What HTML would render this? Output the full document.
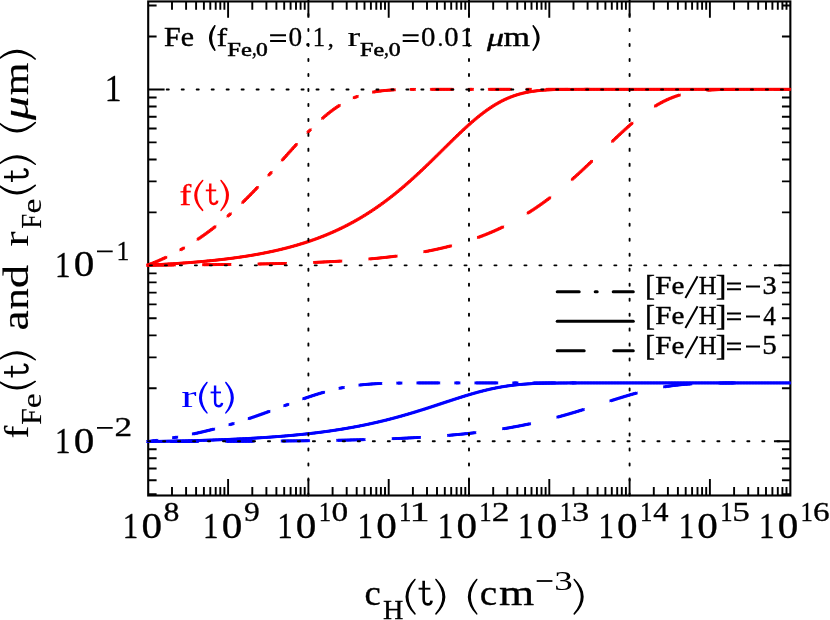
<!DOCTYPE html>
<html><head><meta charset="utf-8"><title>chart</title>
<style>html,body{margin:0;padding:0;background:#fff;width:830px;height:620px;overflow:hidden}svg{position:absolute;left:0;top:0;display:block;will-change:transform}text{font-family:"Liberation Serif",serif}text.ss{font-family:"Liberation Sans",sans-serif}</style></head>
<body>
<svg width="830" height="620" viewBox="0 0 830 620">
<rect width="830" height="620" fill="#fff"/>
<g id="title">
<text transform="translate(164.10,46.33) scale(1.094,1.000)" font-size="27.37" stroke="#000" stroke-width="0.4">Fe</text>
<path d="M214.85,25.75Q204.65,38.00 214.85,50.25Q207.65,38.00 214.85,25.75Z" fill="#000" stroke="#000" stroke-width="1.5" stroke-linejoin="round"/>
<text transform="translate(216.87,46.30) scale(1.210,1.000)" font-size="25.67" stroke="#000" stroke-width="0.4">f</text>
<text transform="translate(227.26,55.51) scale(1.309,1.000)" font-size="18.80" stroke="#000" stroke-width="0.5">Fe</text>
<text transform="translate(251.90,55.31) scale(0.907,1.000)" font-size="20.58" stroke="#000" stroke-width="0.4">,</text>
<text transform="translate(256.12,55.61) scale(1.241,1.000)" font-size="18.96" stroke="#000" stroke-width="0.5">0</text>
<text transform="translate(288.58,46.23) scale(1.012,1.000)" font-size="26.96" stroke="#000" stroke-width="0.3">0</text>
<text transform="translate(304.73,46.04) scale(1.014,1.000)" font-size="23.83" stroke="#000" stroke-width="0.3">.</text>
<text transform="translate(312.74,46.30) scale(0.910,1.000)" font-size="27.12" stroke="#000" stroke-width="0.3">1</text>
<text transform="translate(327.80,45.83) scale(1.013,1.000)" font-size="23.69" stroke="#000" stroke-width="0.3">,</text>
<text transform="translate(347.44,46.30) scale(1.419,1.000)" font-size="26.81" stroke="#000" stroke-width="0.15">r</text>
<text transform="translate(360.08,55.51) scale(1.275,1.000)" font-size="18.80" stroke="#000" stroke-width="0.5">Fe</text>
<text transform="translate(383.88,55.31) scale(0.939,1.000)" font-size="20.58" stroke="#000" stroke-width="0.4">,</text>
<text transform="translate(388.81,55.61) scale(1.253,1.000)" font-size="18.96" stroke="#000" stroke-width="0.5">0</text>
<text transform="translate(421.11,46.23) scale(1.073,1.000)" font-size="26.96" stroke="#000" stroke-width="0.3">0</text>
<text transform="translate(437.38,46.04) scale(0.979,1.000)" font-size="23.83" stroke="#000" stroke-width="0.3">.</text>
<text transform="translate(444.32,46.23) scale(1.065,1.000)" font-size="26.96" stroke="#000" stroke-width="0.3">0</text>
<text transform="translate(460.62,46.30) scale(0.920,1.000)" font-size="27.12" stroke="#000" stroke-width="0.3">1</text>
<text transform="translate(486.90,45.56) scale(1.319,1.000)" font-size="25.78" font-style="italic" stroke="#000" stroke-width="0.4">&#956;</text>
<text transform="translate(503.52,46.30) scale(1.271,1.000)" font-size="26.81" stroke="#000" stroke-width="0.4">m</text>
<path d="M533.15,25.75Q544.55,38.00 533.15,50.25Q541.55,38.00 533.15,25.75Z" fill="#000" stroke="#000" stroke-width="1.5" stroke-linejoin="round"/>
<path d="M270.1,35.2H286M270.1,41H286M402.7,35.2H418.6M402.7,41H418.6" stroke="#000" stroke-width="1.9" fill="none"/>
</g>
<path d="M172.0,495.5v-8.4M172.0,1.45v8.4M186.1,495.5v-8.4M186.1,1.45v8.4M196.1,495.5v-8.4M196.1,1.45v8.4M203.9,495.5v-8.4M203.9,1.45v8.4M210.3,495.5v-8.4M210.3,1.45v8.4M215.7,495.5v-8.4M215.7,1.45v8.4M220.3,495.5v-8.4M220.3,1.45v8.4M224.4,495.5v-8.4M224.4,1.45v8.4M228.1,495.5v-16.4M228.1,1.45v16.4M252.3,495.5v-8.4M252.3,1.45v8.4M266.4,495.5v-8.4M266.4,1.45v8.4M276.4,495.5v-8.4M276.4,1.45v8.4M284.2,495.5v-8.4M284.2,1.45v8.4M290.6,495.5v-8.4M290.6,1.45v8.4M296.0,495.5v-8.4M296.0,1.45v8.4M300.6,495.5v-8.4M300.6,1.45v8.4M304.7,495.5v-8.4M304.7,1.45v8.4M308.4,495.5v-16.4M308.4,1.45v16.4M332.6,495.5v-8.4M332.6,1.45v8.4M346.7,495.5v-8.4M346.7,1.45v8.4M356.7,495.5v-8.4M356.7,1.45v8.4M364.5,495.5v-8.4M364.5,1.45v8.4M370.9,495.5v-8.4M370.9,1.45v8.4M376.3,495.5v-8.4M376.3,1.45v8.4M380.9,495.5v-8.4M380.9,1.45v8.4M385.0,495.5v-8.4M385.0,1.45v8.4M388.7,495.5v-16.4M388.7,1.45v16.4M412.9,495.5v-8.4M412.9,1.45v8.4M427.0,495.5v-8.4M427.0,1.45v8.4M437.0,495.5v-8.4M437.0,1.45v8.4M444.8,495.5v-8.4M444.8,1.45v8.4M451.2,495.5v-8.4M451.2,1.45v8.4M456.6,495.5v-8.4M456.6,1.45v8.4M461.2,495.5v-8.4M461.2,1.45v8.4M465.3,495.5v-8.4M465.3,1.45v8.4M469.0,495.5v-16.4M469.0,1.45v16.4M493.2,495.5v-8.4M493.2,1.45v8.4M507.3,495.5v-8.4M507.3,1.45v8.4M517.3,495.5v-8.4M517.3,1.45v8.4M525.1,495.5v-8.4M525.1,1.45v8.4M531.5,495.5v-8.4M531.5,1.45v8.4M536.9,495.5v-8.4M536.9,1.45v8.4M541.5,495.5v-8.4M541.5,1.45v8.4M545.6,495.5v-8.4M545.6,1.45v8.4M549.3,495.5v-16.4M549.3,1.45v16.4M573.5,495.5v-8.4M573.5,1.45v8.4M587.6,495.5v-8.4M587.6,1.45v8.4M597.6,495.5v-8.4M597.6,1.45v8.4M605.4,495.5v-8.4M605.4,1.45v8.4M611.8,495.5v-8.4M611.8,1.45v8.4M617.2,495.5v-8.4M617.2,1.45v8.4M621.8,495.5v-8.4M621.8,1.45v8.4M625.9,495.5v-8.4M625.9,1.45v8.4M629.6,495.5v-16.4M629.6,1.45v16.4M653.8,495.5v-8.4M653.8,1.45v8.4M667.9,495.5v-8.4M667.9,1.45v8.4M677.9,495.5v-8.4M677.9,1.45v8.4M685.7,495.5v-8.4M685.7,1.45v8.4M692.1,495.5v-8.4M692.1,1.45v8.4M697.5,495.5v-8.4M697.5,1.45v8.4M702.1,495.5v-8.4M702.1,1.45v8.4M706.2,495.5v-8.4M706.2,1.45v8.4M709.9,495.5v-16.4M709.9,1.45v16.4M734.1,495.5v-8.4M734.1,1.45v8.4M748.2,495.5v-8.4M748.2,1.45v8.4M758.2,495.5v-8.4M758.2,1.45v8.4M766.0,495.5v-8.4M766.0,1.45v8.4M772.4,495.5v-8.4M772.4,1.45v8.4M777.8,495.5v-8.4M777.8,1.45v8.4M782.4,495.5v-8.4M782.4,1.45v8.4M786.5,495.5v-8.4M786.5,1.45v8.4M148.2,494.2h8.4M790.35,494.2h-8.4M148.2,480.3h8.4M790.35,480.3h-8.4M148.2,468.5h8.4M790.35,468.5h-8.4M148.2,458.3h8.4M790.35,458.3h-8.4M148.2,449.3h8.4M790.35,449.3h-8.4M148.2,441.3h16.4M790.35,441.3h-16.4M148.2,388.3h8.4M790.35,388.3h-8.4M148.2,357.4h8.4M790.35,357.4h-8.4M148.2,335.4h8.4M790.35,335.4h-8.4M148.2,318.3h8.4M790.35,318.3h-8.4M148.2,304.4h8.4M790.35,304.4h-8.4M148.2,292.6h8.4M790.35,292.6h-8.4M148.2,282.4h8.4M790.35,282.4h-8.4M148.2,273.4h8.4M790.35,273.4h-8.4M148.2,265.4h16.4M790.35,265.4h-16.4M148.2,212.4h8.4M790.35,212.4h-8.4M148.2,181.4h8.4M790.35,181.4h-8.4M148.2,159.5h8.4M790.35,159.5h-8.4M148.2,142.4h8.4M790.35,142.4h-8.4M148.2,128.5h8.4M790.35,128.5h-8.4M148.2,116.7h8.4M790.35,116.7h-8.4M148.2,106.5h8.4M790.35,106.5h-8.4M148.2,97.5h8.4M790.35,97.5h-8.4M148.2,89.5h16.4M790.35,89.5h-16.4M148.2,36.5h8.4M790.35,36.5h-8.4M148.2,5.5h8.4M790.35,5.5h-8.4" stroke="#000" stroke-width="1.9" fill="none"/>
<rect x="148.2" y="1.45" width="642.1500000000001" height="494.05" fill="none" stroke="#000" stroke-width="2.1"/>
<g stroke="#ff0000" fill="none" stroke-linecap="round" stroke-linejoin="round" stroke-dasharray="26.8 28.7" stroke-dashoffset="0">
<use href="#c1" stroke-width="2.3"/>
<use href="#c1" x="-0.9" y="-0.9" stroke-width="1.0"/>
<use href="#c1" x="0.9" y="-0.9" stroke-width="1.0"/>
<use href="#c1" x="-0.9" y="0.9" stroke-width="1.0"/>
<use href="#c1" x="0.9" y="0.9" stroke-width="1.0"/>
</g>
<g stroke="#ff0000" fill="none" stroke-linecap="round" stroke-linejoin="round" stroke-dasharray="21.3 16.55 3.6 16.55" stroke-dashoffset="1.5">
<use href="#c2" stroke-width="2.3"/>
<use href="#c2" x="-0.9" y="-0.9" stroke-width="1.0"/>
<use href="#c2" x="0.9" y="-0.9" stroke-width="1.0"/>
<use href="#c2" x="-0.9" y="0.9" stroke-width="1.0"/>
<use href="#c2" x="0.9" y="0.9" stroke-width="1.0"/>
</g>
<g stroke="#ff0000" fill="none" stroke-linecap="round" stroke-linejoin="round">
<use href="#c3" stroke-width="2.3"/>
<use href="#c3" x="-0.9" y="-0.9" stroke-width="1.0"/>
<use href="#c3" x="0.9" y="-0.9" stroke-width="1.0"/>
<use href="#c3" x="-0.9" y="0.9" stroke-width="1.0"/>
<use href="#c3" x="0.9" y="0.9" stroke-width="1.0"/>
</g>
<g stroke="#0000ff" fill="none" stroke-linecap="round" stroke-linejoin="round" stroke-dasharray="26.8 28.7" stroke-dashoffset="32.3">
<use href="#c4" stroke-width="2.3"/>
<use href="#c4" x="-0.9" y="-0.9" stroke-width="1.0"/>
<use href="#c4" x="0.9" y="-0.9" stroke-width="1.0"/>
<use href="#c4" x="-0.9" y="0.9" stroke-width="1.0"/>
<use href="#c4" x="0.9" y="0.9" stroke-width="1.0"/>
</g>
<g stroke="#0000ff" fill="none" stroke-linecap="round" stroke-linejoin="round" stroke-dasharray="21.3 16.55 3.6 16.55" stroke-dashoffset="12">
<use href="#c5" stroke-width="2.3"/>
<use href="#c5" x="-0.9" y="-0.9" stroke-width="1.0"/>
<use href="#c5" x="0.9" y="-0.9" stroke-width="1.0"/>
<use href="#c5" x="-0.9" y="0.9" stroke-width="1.0"/>
<use href="#c5" x="0.9" y="0.9" stroke-width="1.0"/>
</g>
<g stroke="#0000ff" fill="none" stroke-linecap="round" stroke-linejoin="round">
<use href="#c6" stroke-width="2.3"/>
<use href="#c6" x="-0.9" y="-0.9" stroke-width="1.0"/>
<use href="#c6" x="0.9" y="-0.9" stroke-width="1.0"/>
<use href="#c6" x="-0.9" y="0.9" stroke-width="1.0"/>
<use href="#c6" x="0.9" y="0.9" stroke-width="1.0"/>
</g>
<line x1="166.7" y1="89.45" x2="790.35" y2="89.45" stroke="#000" stroke-width="1.9" stroke-linecap="round" stroke-dasharray="2.1 12.88"/>
<line x1="149.9" y1="265.37" x2="790.35" y2="265.37" stroke="#000" stroke-width="1.9" stroke-linecap="round" stroke-dasharray="2.1 12.88"/>
<line x1="148.1" y1="441.29" x2="790.35" y2="441.29" stroke="#000" stroke-width="1.9" stroke-linecap="round" stroke-dasharray="2.1 12.88"/>
<line x1="308.4" y1="-1.0" x2="308.4" y2="495.5" stroke="#000" stroke-width="1.9" stroke-linecap="round" stroke-dasharray="2.1 12.88"/>
<line x1="469.0" y1="-1.0" x2="469.0" y2="495.5" stroke="#000" stroke-width="1.9" stroke-linecap="round" stroke-dasharray="2.1 12.88"/>
<line x1="629.6" y1="-1.0" x2="629.6" y2="495.5" stroke="#000" stroke-width="1.9" stroke-linecap="round" stroke-dasharray="2.1 12.88"/>
<g stroke="#000" stroke-width="3" stroke-linecap="round" fill="none">
<path d="M557.2,291.8H633.3" stroke-dasharray="22 16 2 16"/>
<path d="M557.2,321.3H633.3"/>
<path d="M557.2,350.8H633.3" stroke-dasharray="27 29.5"/>
</g>
<text transform="translate(179.54,204.80) scale(1.171,1.000)" font-size="30.21" fill="#ff0000" stroke="#ff0000" stroke-width="0.3">f</text>
<path d="M202.65,180.45Q187.25,195.40 202.65,210.35Q190.25,195.40 202.65,180.45Z" fill="#ff0000" stroke="#ff0000" stroke-width="1.5" stroke-linejoin="round"/>
<path d="M210.28,183.50L210.28,199.84Q210.28,204.03 213.79,204.03Q216.93,204.03 217.30,200.70" stroke="#ff0000" stroke-width="2.4" fill="none"/><path d="M205.80,190.38H216.21" stroke="#ff0000" stroke-width="1.8" fill="none"/>
<path d="M221.05,180.45Q235.45,195.40 221.05,210.35Q232.45,195.40 221.05,180.45Z" fill="#ff0000" stroke="#ff0000" stroke-width="1.5" stroke-linejoin="round"/>
<text transform="translate(181.18,407.00) scale(1.419,1.000)" font-size="32.34" fill="#0000ff">r</text>
<path d="M206.95,382.45Q192.55,397.65 206.95,412.85Q195.55,397.65 206.95,382.45Z" fill="#0000ff" stroke="#0000ff" stroke-width="1.5" stroke-linejoin="round"/>
<path d="M215.08,385.50L215.08,401.99Q215.08,406.22 218.59,406.22Q221.73,406.22 222.09,402.86" stroke="#0000ff" stroke-width="2.4" fill="none"/><path d="M210.60,392.44H221.01" stroke="#0000ff" stroke-width="1.8" fill="none"/>
<path d="M225.85,382.45Q240.25,397.65 225.85,412.85Q237.25,397.65 225.85,382.45Z" fill="#0000ff" stroke="#0000ff" stroke-width="1.5" stroke-linejoin="round"/>
<text transform="translate(645.04,295.13) scale(1.050,1.000)" font-size="28.67" stroke="#000" stroke-width="0.4">[</text>
<text transform="translate(655.33,294.15) scale(1.180,1.000)" font-size="24.66" stroke="#000" stroke-width="0.4">Fe</text>
<text transform="translate(698.86,294.20) scale(0.995,1.000)" font-size="24.73" stroke="#000" stroke-width="0.4">H</text>
<text transform="translate(715.68,295.13) scale(1.116,1.000)" font-size="28.67" stroke="#000" stroke-width="0.4">]</text>
<path d="M685.4,298L697.6,276.2M727,283.6H741M727,289.2H741M746,286.4H760" stroke="#000" stroke-width="2" fill="none"/>
<text transform="translate(762.45,294.34) scale(1.084,1.000)" font-size="26.17" stroke="#000" stroke-width="0.4">3</text>
<text transform="translate(645.04,325.13) scale(1.050,1.000)" font-size="28.67" stroke="#000" stroke-width="0.4">[</text>
<text transform="translate(655.33,324.15) scale(1.180,1.000)" font-size="24.66" stroke="#000" stroke-width="0.4">Fe</text>
<text transform="translate(698.86,324.20) scale(0.995,1.000)" font-size="24.73" stroke="#000" stroke-width="0.4">H</text>
<text transform="translate(715.68,325.13) scale(1.116,1.000)" font-size="28.67" stroke="#000" stroke-width="0.4">]</text>
<path d="M685.4,328L697.6,306.2M727,313.6H741M727,319.2H741M746,316.4H760" stroke="#000" stroke-width="2" fill="none"/>
<text transform="translate(763.30,324.60) scale(0.940,1.000)" font-size="26.77" stroke="#000" stroke-width="0.4">4</text>
<text transform="translate(645.04,355.13) scale(1.050,1.000)" font-size="28.67" stroke="#000" stroke-width="0.4">[</text>
<text transform="translate(655.33,354.15) scale(1.180,1.000)" font-size="24.66" stroke="#000" stroke-width="0.4">Fe</text>
<text transform="translate(698.86,354.20) scale(0.995,1.000)" font-size="24.73" stroke="#000" stroke-width="0.4">H</text>
<text transform="translate(715.68,355.13) scale(1.116,1.000)" font-size="28.67" stroke="#000" stroke-width="0.4">]</text>
<path d="M685.4,358L697.6,336.2M727,343.6H741M727,349.2H741M746,346.4H760" stroke="#000" stroke-width="2" fill="none"/>
<text transform="translate(762.13,354.34) scale(1.098,1.000)" font-size="26.47" stroke="#000" stroke-width="0.4">5</text>
<text transform="translate(122.79,537.90) scale(0.868,1.000)" font-size="35.61" stroke="#000" stroke-width="0.3">1</text>
<text transform="translate(141.46,537.75) scale(1.168,1.000)" font-size="35.26" stroke="#000" stroke-width="0.3">0</text>
<text transform="translate(163.61,520.93) scale(1.198,1.000)" font-size="26.52" stroke="#000" stroke-width="0.3">8</text>
<text transform="translate(203.09,537.90) scale(0.868,1.000)" font-size="35.61" stroke="#000" stroke-width="0.3">1</text>
<text transform="translate(221.76,537.75) scale(1.168,1.000)" font-size="35.26" stroke="#000" stroke-width="0.3">0</text>
<text transform="translate(244.07,520.93) scale(1.186,1.000)" font-size="26.62" stroke="#000" stroke-width="0.3">9</text>
<text transform="translate(277.19,537.90) scale(0.868,1.000)" font-size="35.61" stroke="#000" stroke-width="0.3">1</text>
<text transform="translate(295.86,537.75) scale(1.168,1.000)" font-size="35.26" stroke="#000" stroke-width="0.3">0</text>
<text transform="translate(318.74,521.00) scale(0.926,1.000)" font-size="26.67" stroke="#000" stroke-width="0.3">1</text>
<text transform="translate(331.45,520.93) scale(1.260,1.000)" font-size="26.52" stroke="#000" stroke-width="0.3">0</text>
<text transform="translate(357.49,537.90) scale(0.868,1.000)" font-size="35.61" stroke="#000" stroke-width="0.3">1</text>
<text transform="translate(376.16,537.75) scale(1.168,1.000)" font-size="35.26" stroke="#000" stroke-width="0.3">0</text>
<text transform="translate(399.04,521.00) scale(0.926,1.000)" font-size="26.67" stroke="#000" stroke-width="0.3">1</text>
<text transform="translate(409.48,521.20) scale(1.485,1.000)" font-size="27.12" stroke="#000" stroke-width="0.3">1</text>
<text transform="translate(437.79,537.90) scale(0.868,1.000)" font-size="35.61" stroke="#000" stroke-width="0.3">1</text>
<text transform="translate(456.46,537.75) scale(1.168,1.000)" font-size="35.26" stroke="#000" stroke-width="0.3">0</text>
<text transform="translate(479.34,521.00) scale(0.926,1.000)" font-size="26.67" stroke="#000" stroke-width="0.3">1</text>
<text transform="translate(491.70,521.20) scale(1.314,1.000)" font-size="27.02" stroke="#000" stroke-width="0.3">2</text>
<text transform="translate(518.09,537.90) scale(0.868,1.000)" font-size="35.61" stroke="#000" stroke-width="0.3">1</text>
<text transform="translate(536.76,537.75) scale(1.168,1.000)" font-size="35.26" stroke="#000" stroke-width="0.3">0</text>
<text transform="translate(559.64,521.00) scale(0.926,1.000)" font-size="26.67" stroke="#000" stroke-width="0.3">1</text>
<text transform="translate(571.96,520.93) scale(1.293,1.000)" font-size="26.62" stroke="#000" stroke-width="0.3">3</text>
<text transform="translate(598.39,537.90) scale(0.868,1.000)" font-size="35.61" stroke="#000" stroke-width="0.3">1</text>
<text transform="translate(617.06,537.75) scale(1.168,1.000)" font-size="35.26" stroke="#000" stroke-width="0.3">0</text>
<text transform="translate(639.94,521.00) scale(0.926,1.000)" font-size="26.67" stroke="#000" stroke-width="0.3">1</text>
<text transform="translate(653.29,521.20) scale(1.122,1.000)" font-size="27.22" stroke="#000" stroke-width="0.3">4</text>
<text transform="translate(678.69,537.90) scale(0.868,1.000)" font-size="35.61" stroke="#000" stroke-width="0.3">1</text>
<text transform="translate(697.36,537.75) scale(1.168,1.000)" font-size="35.26" stroke="#000" stroke-width="0.3">0</text>
<text transform="translate(720.24,521.00) scale(0.926,1.000)" font-size="26.67" stroke="#000" stroke-width="0.3">1</text>
<text transform="translate(732.17,520.93) scale(1.311,1.000)" font-size="26.92" stroke="#000" stroke-width="0.3">5</text>
<text transform="translate(758.99,537.90) scale(0.868,1.000)" font-size="35.61" stroke="#000" stroke-width="0.3">1</text>
<text transform="translate(777.66,537.75) scale(1.168,1.000)" font-size="35.26" stroke="#000" stroke-width="0.3">0</text>
<text transform="translate(800.54,521.00) scale(0.926,1.000)" font-size="26.67" stroke="#000" stroke-width="0.3">1</text>
<text transform="translate(813.09,520.93) scale(1.248,1.000)" font-size="26.62" stroke="#000" stroke-width="0.3">6</text>
<text transform="translate(104.87,100.90) scale(0.902,1.000)" font-size="37.12" stroke="#000" stroke-width="0.3">1</text>
<text transform="translate(55.09,276.60) scale(0.861,1.000)" font-size="35.91" stroke="#000" stroke-width="0.3">1</text>
<text transform="translate(73.76,276.44) scale(1.158,1.000)" font-size="35.56" stroke="#000" stroke-width="0.3">0</text>
<text transform="translate(116.47,259.70) scale(0.931,1.000)" font-size="27.42" stroke="#000" stroke-width="0.3">1</text>
<text transform="translate(55.09,452.80) scale(0.850,1.000)" font-size="36.36" stroke="#000" stroke-width="0.3">1</text>
<text transform="translate(73.76,452.64) scale(1.144,1.000)" font-size="36.00" stroke="#000" stroke-width="0.3">0</text>
<text transform="translate(114.41,435.50) scale(1.319,1.000)" font-size="26.72" stroke="#000" stroke-width="0.3">2</text>
<path d="M97,251.3H112.7M97,427.8H112.7" stroke="#000" stroke-width="1.8" fill="none"/>
<text transform="translate(364.43,605.15) scale(1.050,1.000)" font-size="34.79" stroke="#000" stroke-width="0.3">c</text>
<text transform="translate(383.05,619.10) scale(1.021,1.000)" font-size="27.63" stroke="#000" stroke-width="0.3">H</text>
<path d="M414.95,579.45Q397.55,596.65 414.95,613.85Q400.55,596.65 414.95,579.45Z" fill="#000" stroke="#000" stroke-width="1.5" stroke-linejoin="round"/>
<path d="M423.67,580.80L423.67,599.57Q423.67,604.39 427.64,604.39Q431.20,604.39 431.62,600.56" stroke="#000" stroke-width="2.6" fill="none"/><path d="M418.60,588.70H430.38" stroke="#000" stroke-width="1.9" fill="none"/>
<path d="M435.95,579.45Q453.15,596.65 435.95,613.85Q450.15,596.65 435.95,579.45Z" fill="#000" stroke="#000" stroke-width="1.5" stroke-linejoin="round"/>
<path d="M476.75,579.45Q460.55,596.65 476.75,613.85Q463.55,596.65 476.75,579.45Z" fill="#000" stroke="#000" stroke-width="1.5" stroke-linejoin="round"/>
<text transform="translate(479.63,605.15) scale(1.127,1.000)" font-size="34.79" stroke="#000" stroke-width="0.3">c</text>
<text transform="translate(499.09,605.20) scale(1.297,1.000)" font-size="34.89" stroke="#000" stroke-width="0.3">m</text>
<text transform="translate(554.14,589.53) scale(1.393,1.000)" font-size="26.62">3</text>
<path d="M574.25,579.45Q591.65,596.65 574.25,613.85Q588.65,596.65 574.25,579.45Z" fill="#000" stroke="#000" stroke-width="1.5" stroke-linejoin="round"/>
<path d="M536.7,581H552.4" stroke="#000" stroke-width="1.8" fill="none"/>
<g transform="translate(28.3,440) rotate(-90)">
<text transform="translate(1.68,0.00) scale(1.084,1.000)" font-size="34.47" stroke="#000" stroke-width="0.15">f</text>
<text transform="translate(15.21,12.80) scale(1.033,1.000)" font-size="28.85" stroke="#000" stroke-width="0.15">F</text>
<text transform="translate(31.75,12.72) scale(1.201,1.000)" font-size="28.12" stroke="#000" stroke-width="0.15">e</text>
<path d="M58.55,-29.55Q43.75,-11.30 58.55,6.95Q46.75,-11.30 58.55,-29.55Z" fill="#000" stroke="#000" stroke-width="1.5" stroke-linejoin="round"/>
<path d="M67.57,-24.30L67.57,-5.60Q67.57,-0.81 71.54,-0.81Q75.10,-0.81 75.51,-4.62" stroke="#000" stroke-width="2.6" fill="none"/><path d="M62.50,-16.43H74.28" stroke="#000" stroke-width="1.9" fill="none"/>
<path d="M80.25,-29.55Q95.65,-11.30 80.25,6.95Q92.65,-11.30 80.25,-29.55Z" fill="#000" stroke="#000" stroke-width="1.5" stroke-linejoin="round"/>
<text transform="translate(109.41,0.13) scale(1.229,1.000)" font-size="37.08" stroke="#000" stroke-width="0.15">a</text>
<text transform="translate(130.45,0.00) scale(1.172,1.000)" font-size="36.17" stroke="#000" stroke-width="0.15">n</text>
<text transform="translate(151.76,0.15) scale(1.332,1.000)" font-size="35.18" stroke="#000" stroke-width="0.15">d</text>
<text transform="translate(193.27,0.00) scale(1.287,1.000)" font-size="36.17">r</text>
<text transform="translate(211.19,12.80) scale(0.934,1.000)" font-size="28.85" stroke="#000" stroke-width="0.15">F</text>
<text transform="translate(226.56,12.72) scale(1.192,1.000)" font-size="28.12" stroke="#000" stroke-width="0.15">e</text>
<path d="M254.65,-29.55Q238.05,-11.30 254.65,6.95Q241.05,-11.30 254.65,-29.55Z" fill="#000" stroke="#000" stroke-width="1.5" stroke-linejoin="round"/>
<path d="M262.96,-24.30L262.96,-5.60Q262.96,-0.81 266.84,-0.81Q270.33,-0.81 270.73,-4.62" stroke="#000" stroke-width="2.6" fill="none"/><path d="M258.00,-16.43H269.52" stroke="#000" stroke-width="1.9" fill="none"/>
<path d="M275.75,-29.55Q292.15,-11.30 275.75,6.95Q289.15,-11.30 275.75,-29.55Z" fill="#000" stroke="#000" stroke-width="1.5" stroke-linejoin="round"/>
<path d="M317.35,-29.55Q299.15,-11.30 317.35,6.95Q302.15,-11.30 317.35,-29.55Z" fill="#000" stroke="#000" stroke-width="1.5" stroke-linejoin="round"/>
<text transform="translate(320.00,-0.51) scale(1.319,1.000)" font-size="35.85" font-style="italic" stroke="#000" stroke-width="0.15">&#956;</text>
<text transform="translate(344.76,0.00) scale(1.158,1.000)" font-size="36.17" stroke="#000" stroke-width="0.15">m</text>
<path d="M380.95,-29.55Q397.95,-11.30 380.95,6.95Q394.95,-11.30 380.95,-29.55Z" fill="#000" stroke="#000" stroke-width="1.5" stroke-linejoin="round"/>
</g>
<defs><path id="c1" d="M147.8,265.10 L149.3,265.09 L150.8,265.09 L152.3,265.08 L153.8,265.07 L155.3,265.07 L156.8,265.06 L158.3,265.05 L159.8,265.05 L161.3,265.04 L162.8,265.03 L164.3,265.02 L165.8,265.02 L167.3,265.01 L168.8,265.00 L170.3,264.99 L171.8,264.98 L173.3,264.97 L174.8,264.97 L176.3,264.96 L177.8,264.95 L179.3,264.94 L180.8,264.93 L182.3,264.92 L183.8,264.91 L185.3,264.90 L186.8,264.89 L188.3,264.88 L189.8,264.87 L191.3,264.85 L192.8,264.84 L194.3,264.83 L195.8,264.82 L197.3,264.81 L198.8,264.80 L200.3,264.78 L201.8,264.77 L203.3,264.76 L204.8,264.74 L206.3,264.73 L207.8,264.72 L209.3,264.70 L210.8,264.69 L212.3,264.67 L213.8,264.66 L215.3,264.64 L216.8,264.62 L218.3,264.61 L219.8,264.59 L221.3,264.58 L222.8,264.56 L224.3,264.54 L225.8,264.52 L227.3,264.50 L228.8,264.49 L230.3,264.47 L231.8,264.45 L233.3,264.43 L234.8,264.41 L236.3,264.39 L237.8,264.36 L239.3,264.34 L240.8,264.32 L242.3,264.30 L243.8,264.27 L245.3,264.25 L246.8,264.23 L248.3,264.20 L249.8,264.18 L251.3,264.15 L252.8,264.12 L254.3,264.10 L255.8,264.07 L257.3,264.04 L258.8,264.01 L260.3,263.98 L261.8,263.96 L263.3,263.92 L264.8,263.89 L266.3,263.86 L267.8,263.83 L269.3,263.80 L270.8,263.76 L272.3,263.73 L273.8,263.69 L275.3,263.66 L276.8,263.62 L278.3,263.58 L279.8,263.55 L281.3,263.51 L282.8,263.47 L284.3,263.43 L285.8,263.38 L287.3,263.34 L288.8,263.30 L290.3,263.25 L291.8,263.21 L293.3,263.16 L294.8,263.12 L296.3,263.07 L297.8,263.02 L299.3,262.97 L300.8,262.92 L302.3,262.87 L303.8,262.81 L305.3,262.76 L306.8,262.70 L308.3,262.65 L309.8,262.59 L311.3,262.53 L312.8,262.47 L314.3,262.41 L315.8,262.34 L317.3,262.28 L318.8,262.21 L320.3,262.15 L321.8,262.08 L323.3,262.01 L324.8,261.94 L326.3,261.87 L327.8,261.79 L329.3,261.71 L330.8,261.64 L332.3,261.56 L333.8,261.48 L335.3,261.40 L336.8,261.31 L338.3,261.23 L339.8,261.14 L341.3,261.05 L342.8,260.96 L344.3,260.86 L345.8,260.77 L347.3,260.67 L348.8,260.57 L350.3,260.47 L351.8,260.37 L353.3,260.26 L354.8,260.15 L356.3,260.04 L357.8,259.93 L359.3,259.82 L360.8,259.70 L362.3,259.58 L363.8,259.46 L365.3,259.33 L366.8,259.21 L368.3,259.08 L369.8,258.94 L371.3,258.81 L372.8,258.67 L374.3,258.53 L375.8,258.39 L377.3,258.24 L378.8,258.09 L380.3,257.94 L381.8,257.78 L383.3,257.62 L384.8,257.46 L386.3,257.29 L387.8,257.13 L389.3,256.95 L390.8,256.78 L392.3,256.60 L393.8,256.41 L395.3,256.23 L396.8,256.04 L398.3,255.84 L399.8,255.64 L401.3,255.44 L402.8,255.23 L404.3,255.02 L405.8,254.81 L407.3,254.59 L408.8,254.36 L410.3,254.13 L411.8,253.90 L413.3,253.66 L414.8,253.42 L416.3,253.17 L417.8,252.92 L419.3,252.66 L420.8,252.40 L422.3,252.13 L423.8,251.86 L425.3,251.58 L426.8,251.30 L428.3,251.01 L429.8,250.71 L431.3,250.41 L432.8,250.10 L434.3,249.79 L435.8,249.47 L437.3,249.14 L438.8,248.81 L440.3,248.47 L441.8,248.13 L443.3,247.77 L444.8,247.41 L446.3,247.05 L447.8,246.68 L449.3,246.30 L450.8,245.91 L452.3,245.51 L453.8,245.11 L455.3,244.70 L456.8,244.28 L458.3,243.86 L459.8,243.43 L461.3,242.98 L462.8,242.53 L464.3,242.07 L465.8,241.61 L467.3,241.13 L468.8,240.65 L470.3,240.15 L471.8,239.65 L473.3,239.14 L474.8,238.62 L476.3,238.09 L477.8,237.55 L479.3,237.00 L480.8,236.44 L482.3,235.87 L483.8,235.29 L485.3,234.70 L486.8,234.10 L488.3,233.49 L489.8,232.86 L491.3,232.23 L492.8,231.59 L494.3,230.93 L495.8,230.27 L497.3,229.59 L498.8,228.90 L500.3,228.20 L501.8,227.48 L503.3,226.76 L504.8,226.02 L506.3,225.28 L507.8,224.51 L509.3,223.74 L510.8,222.96 L512.3,222.16 L513.8,221.35 L515.3,220.52 L516.8,219.69 L518.3,218.84 L519.8,217.97 L521.3,217.10 L522.8,216.21 L524.3,215.31 L525.8,214.39 L527.3,213.46 L528.8,212.52 L530.3,211.56 L531.8,210.59 L533.3,209.61 L534.8,208.61 L536.3,207.60 L537.8,206.57 L539.3,205.53 L540.8,204.48 L542.3,203.41 L543.8,202.33 L545.3,201.24 L546.8,200.13 L548.3,199.01 L549.8,197.87 L551.3,196.72 L552.8,195.56 L554.3,194.38 L555.8,193.19 L557.3,191.99 L558.8,190.78 L560.3,189.55 L561.8,188.31 L563.3,187.05 L564.8,185.79 L566.3,184.51 L567.8,183.22 L569.3,181.92 L570.8,180.60 L572.3,179.28 L573.8,177.95 L575.3,176.60 L576.8,175.24 L578.3,173.88 L579.8,172.50 L581.3,171.12 L582.8,169.73 L584.3,168.33 L585.8,166.92 L587.3,165.51 L588.8,164.08 L590.3,162.66 L591.8,161.22 L593.3,159.79 L594.8,158.34 L596.3,156.90 L597.8,155.45 L599.3,154.00 L600.8,152.54 L602.3,151.09 L603.8,149.64 L605.3,148.18 L606.8,146.73 L608.3,145.28 L609.8,143.84 L611.3,142.39 L612.8,140.96 L614.3,139.52 L615.8,138.10 L617.3,136.68 L618.8,135.27 L620.3,133.87 L621.8,132.48 L623.3,131.10 L624.8,129.73 L626.3,128.38 L627.8,127.04 L629.3,125.72 L630.8,124.41 L632.3,123.12 L633.8,121.85 L635.3,120.59 L636.8,119.36 L638.3,118.14 L639.8,116.95 L641.3,115.78 L642.8,114.63 L644.3,113.51 L645.8,112.41 L647.3,111.33 L648.8,110.29 L650.3,109.26 L651.8,108.27 L653.3,107.30 L654.8,106.36 L656.3,105.45 L657.8,104.57 L659.3,103.72 L660.8,102.89 L662.3,102.10 L663.8,101.33 L665.3,100.60 L666.8,99.89 L668.3,99.21 L669.8,98.56 L671.3,97.94 L672.8,97.35 L674.3,96.79 L675.8,96.25 L677.3,95.74 L678.8,95.26 L680.3,94.80 L681.8,94.37 L683.3,93.97 L684.8,93.59 L686.3,93.23 L687.8,92.89 L689.3,92.58 L690.8,92.29 L692.3,92.02 L693.8,91.76 L695.3,91.53 L696.8,91.31 L698.3,91.11 L699.8,90.93 L701.3,90.76 L702.8,90.61 L704.3,90.47 L705.8,90.34 L707.3,90.22 L708.8,90.12 L710.3,90.02 L711.8,89.93 L713.3,89.86 L714.8,89.79 L716.3,89.73 L717.8,89.67 L719.3,89.62 L720.8,89.58 L722.3,89.54 L723.8,89.51 L725.3,89.48 L726.8,89.45 L728.3,89.43 L729.8,89.41 L731.3,89.39 L732.8,89.38 L734.3,89.36"/><path id="c2" d="M147.8,265.10 L149.3,264.52 L150.8,263.93 L152.3,263.33 L153.8,262.72 L155.3,262.10 L156.8,261.47 L158.3,260.82 L159.8,260.17 L161.3,259.50 L162.8,258.82 L164.3,258.13 L165.8,257.43 L167.3,256.71 L168.8,255.98 L170.3,255.24 L171.8,254.49 L173.3,253.72 L174.8,252.95 L176.3,252.15 L177.8,251.35 L179.3,250.53 L180.8,249.70 L182.3,248.85 L183.8,248.00 L185.3,247.12 L186.8,246.24 L188.3,245.33 L189.8,244.42 L191.3,243.49 L192.8,242.54 L194.3,241.59 L195.8,240.61 L197.3,239.62 L198.8,238.62 L200.3,237.60 L201.8,236.57 L203.3,235.52 L204.8,234.45 L206.3,233.37 L207.8,232.28 L209.3,231.16 L210.8,230.04 L212.3,228.90 L213.8,227.74 L215.3,226.56 L216.8,225.37 L218.3,224.17 L219.8,222.95 L221.3,221.71 L222.8,220.46 L224.3,219.19 L225.8,217.91 L227.3,216.61 L228.8,215.29 L230.3,213.96 L231.8,212.62 L233.3,211.26 L234.8,209.88 L236.3,208.49 L237.8,207.08 L239.3,205.66 L240.8,204.23 L242.3,202.78 L243.8,201.31 L245.3,199.84 L246.8,198.35 L248.3,196.84 L249.8,195.32 L251.3,193.80 L252.8,192.25 L254.3,190.70 L255.8,189.13 L257.3,187.56 L258.8,185.97 L260.3,184.37 L261.8,182.76 L263.3,181.15 L264.8,179.52 L266.3,177.88 L267.8,176.24 L269.3,174.59 L270.8,172.94 L272.3,171.28 L273.8,169.61 L275.3,167.94 L276.8,166.27 L278.3,164.59 L279.8,162.91 L281.3,161.23 L282.8,159.55 L284.3,157.87 L285.8,156.19 L287.3,154.51 L288.8,152.83 L290.3,151.17 L291.8,149.50 L293.3,147.84 L294.8,146.19 L296.3,144.55 L297.8,142.91 L299.3,141.29 L300.8,139.68 L302.3,138.08 L303.8,136.49 L305.3,134.92 L306.8,133.37 L308.3,131.83 L309.8,130.31 L311.3,128.81 L312.8,127.33 L314.3,125.87 L315.8,124.43 L317.3,123.02 L318.8,121.63 L320.3,120.26 L321.8,118.93 L323.3,117.62 L324.8,116.33 L326.3,115.08 L327.8,113.86 L329.3,112.67 L330.8,111.50 L332.3,110.37 L333.8,109.28 L335.3,108.21 L336.8,107.18 L338.3,106.18 L339.8,105.22 L341.3,104.29 L342.8,103.39 L344.3,102.53 L345.8,101.70 L347.3,100.91 L348.8,100.15 L350.3,99.42 L351.8,98.73 L353.3,98.07 L354.8,97.44 L356.3,96.84 L357.8,96.28 L359.3,95.74 L360.8,95.24 L362.3,94.77 L363.8,94.32 L365.3,93.90 L366.8,93.51 L368.3,93.14 L369.8,92.80 L371.3,92.48 L372.8,92.18 L374.3,91.91 L375.8,91.66 L377.3,91.42 L378.8,91.21 L380.3,91.01 L381.8,90.83 L383.3,90.66 L384.8,90.51 L386.3,90.38 L387.8,90.25 L389.3,90.14 L390.8,90.04 L392.3,89.95 L393.8,89.87 L395.3,89.80 L396.8,89.73 L398.3,89.67 L399.8,89.62 L401.3,89.58 L402.8,89.54 L404.3,89.51 L405.8,89.47 L407.3,89.45 L408.8,89.43 L410.3,89.41 L411.8,89.39 L413.3,89.37 L414.8,89.36 L416.3,89.35 L417.8,89.34 L419.3,89.34 L420.8,89.33 L422.3,89.32 L423.8,89.32 L425.3,89.32 L426.8,89.31 L428.3,89.31 L429.8,89.31 L431.3,89.31 L432.8,89.31 L434.3,89.30 L435.8,89.30 L437.3,89.30 L438.8,89.30 L440.3,89.30 L441.8,89.30 L443.3,89.30 L444.8,89.30 L446.3,89.30 L447.8,89.30 L449.3,89.30 L450.8,89.30 L452.3,89.30 L453.8,89.30 L455.3,89.30 L456.8,89.30 L458.3,89.30 L459.8,89.30 L461.3,89.30 L462.8,89.30 L464.3,89.30 L465.8,89.30 L467.3,89.30 L468.8,89.30 L470.3,89.30 L471.8,89.30 L473.3,89.30 L474.8,89.30 L476.3,89.30 L477.8,89.30 L479.3,89.30 L480.8,89.30 L482.3,89.30 L483.8,89.30 L485.3,89.30 L486.8,89.30 L488.3,89.30 L489.8,89.30 L491.3,89.30 L492.8,89.30 L494.3,89.30 L495.8,89.30 L497.3,89.30 L498.8,89.30 L500.3,89.30 L501.8,89.30 L503.3,89.30 L504.8,89.30 L506.3,89.30 L507.8,89.30 L509.3,89.30 L510.8,89.30 L512.3,89.30 L513.8,89.30 L515.3,89.30 L516.8,89.30 L518.3,89.30 L519.8,89.30 L521.3,89.30 L522.8,89.30 L524.3,89.30 L525.8,89.30 L527.3,89.30 L528.8,89.30 L530.3,89.30 L531.8,89.30 L533.3,89.30 L534.8,89.30 L536.3,89.30 L537.8,89.30 L539.3,89.30 L540.8,89.30 L542.3,89.30 L543.8,89.30 L545.3,89.30 L546.8,89.30 L548.3,89.30 L549.8,89.30 L551.3,89.30 L552.8,89.30 L554.3,89.30 L555.8,89.30 L557.3,89.30 L558.8,89.30 L560.3,89.30 L561.8,89.30 L563.3,89.30 L564.8,89.30 L566.3,89.30 L567.8,89.30 L569.3,89.30 L570.8,89.30 L572.3,89.30 L573.8,89.30 L575.3,89.30 L576.8,89.30 L578.3,89.30 L579.8,89.30 L581.3,89.30 L582.8,89.30 L584.3,89.30 L585.8,89.30 L587.3,89.30 L588.8,89.30"/><path id="c3" d="M147.8,265.10 L149.3,265.03 L150.8,264.96 L152.3,264.89 L153.8,264.81 L155.3,264.74 L156.8,264.66 L158.3,264.58 L159.8,264.50 L161.3,264.42 L162.8,264.34 L164.3,264.25 L165.8,264.17 L167.3,264.08 L168.8,263.99 L170.3,263.90 L171.8,263.81 L173.3,263.71 L174.8,263.62 L176.3,263.52 L177.8,263.42 L179.3,263.32 L180.8,263.21 L182.3,263.11 L183.8,263.00 L185.3,262.89 L186.8,262.78 L188.3,262.67 L189.8,262.55 L191.3,262.43 L192.8,262.31 L194.3,262.19 L195.8,262.07 L197.3,261.94 L198.8,261.81 L200.3,261.68 L201.8,261.54 L203.3,261.41 L204.8,261.27 L206.3,261.13 L207.8,260.98 L209.3,260.83 L210.8,260.68 L212.3,260.53 L213.8,260.38 L215.3,260.22 L216.8,260.05 L218.3,259.89 L219.8,259.72 L221.3,259.55 L222.8,259.38 L224.3,259.20 L225.8,259.02 L227.3,258.83 L228.8,258.65 L230.3,258.45 L231.8,258.26 L233.3,258.06 L234.8,257.86 L236.3,257.65 L237.8,257.44 L239.3,257.23 L240.8,257.01 L242.3,256.79 L243.8,256.56 L245.3,256.33 L246.8,256.09 L248.3,255.85 L249.8,255.61 L251.3,255.36 L252.8,255.11 L254.3,254.85 L255.8,254.59 L257.3,254.32 L258.8,254.05 L260.3,253.77 L261.8,253.49 L263.3,253.20 L264.8,252.90 L266.3,252.60 L267.8,252.30 L269.3,251.99 L270.8,251.67 L272.3,251.35 L273.8,251.02 L275.3,250.69 L276.8,250.35 L278.3,250.00 L279.8,249.65 L281.3,249.29 L282.8,248.92 L284.3,248.55 L285.8,248.17 L287.3,247.78 L288.8,247.39 L290.3,246.99 L291.8,246.58 L293.3,246.17 L294.8,245.74 L296.3,245.31 L297.8,244.87 L299.3,244.43 L300.8,243.97 L302.3,243.51 L303.8,243.04 L305.3,242.56 L306.8,242.07 L308.3,241.57 L309.8,241.07 L311.3,240.55 L312.8,240.03 L314.3,239.50 L315.8,238.96 L317.3,238.40 L318.8,237.84 L320.3,237.27 L321.8,236.69 L323.3,236.10 L324.8,235.50 L326.3,234.89 L327.8,234.27 L329.3,233.63 L330.8,232.99 L332.3,232.34 L333.8,231.67 L335.3,230.99 L336.8,230.31 L338.3,229.61 L339.8,228.90 L341.3,228.18 L342.8,227.44 L344.3,226.70 L345.8,225.94 L347.3,225.17 L348.8,224.39 L350.3,223.59 L351.8,222.78 L353.3,221.96 L354.8,221.13 L356.3,220.29 L357.8,219.43 L359.3,218.56 L360.8,217.67 L362.3,216.77 L363.8,215.86 L365.3,214.94 L366.8,214.00 L368.3,213.05 L369.8,212.08 L371.3,211.10 L372.8,210.11 L374.3,209.10 L375.8,208.08 L377.3,207.04 L378.8,205.99 L380.3,204.93 L381.8,203.85 L383.3,202.76 L384.8,201.65 L386.3,200.53 L387.8,199.40 L389.3,198.25 L390.8,197.09 L392.3,195.92 L393.8,194.73 L395.3,193.53 L396.8,192.31 L398.3,191.08 L399.8,189.84 L401.3,188.58 L402.8,187.31 L404.3,186.03 L405.8,184.74 L407.3,183.43 L408.8,182.11 L410.3,180.78 L411.8,179.44 L413.3,178.08 L414.8,176.72 L416.3,175.34 L417.8,173.96 L419.3,172.56 L420.8,171.16 L422.3,169.74 L423.8,168.32 L425.3,166.89 L426.8,165.45 L428.3,164.00 L429.8,162.55 L431.3,161.09 L432.8,159.63 L434.3,158.16 L435.8,156.68 L437.3,155.21 L438.8,153.73 L440.3,152.25 L441.8,150.76 L443.3,149.28 L444.8,147.80 L446.3,146.31 L447.8,144.83 L449.3,143.36 L450.8,141.88 L452.3,140.42 L453.8,138.95 L455.3,137.50 L456.8,136.05 L458.3,134.61 L459.8,133.18 L461.3,131.76 L462.8,130.35 L464.3,128.96 L465.8,127.58 L467.3,126.21 L468.8,124.86 L470.3,123.53 L471.8,122.21 L473.3,120.92 L474.8,119.64 L476.3,118.38 L477.8,117.15 L479.3,115.94 L480.8,114.75 L482.3,113.59 L483.8,112.46 L485.3,111.35 L486.8,110.26 L488.3,109.21 L489.8,108.18 L491.3,107.18 L492.8,106.21 L494.3,105.27 L495.8,104.37 L497.3,103.49 L498.8,102.64 L500.3,101.83 L501.8,101.04 L503.3,100.29 L504.8,99.57 L506.3,98.87 L507.8,98.21 L509.3,97.59 L510.8,96.99 L512.3,96.42 L513.8,95.88 L515.3,95.37 L516.8,94.89 L518.3,94.43 L519.8,94.00 L521.3,93.60 L522.8,93.23 L524.3,92.88 L525.8,92.55 L527.3,92.25 L528.8,91.96 L530.3,91.70 L531.8,91.46 L533.3,91.24 L534.8,91.04 L536.3,90.85 L537.8,90.68 L539.3,90.53 L540.8,90.39 L542.3,90.26 L543.8,90.14 L545.3,90.04 L546.8,89.95 L548.3,89.86 L549.8,89.79 L551.3,89.72 L552.8,89.67 L554.3,89.61 L555.8,89.57 L557.3,89.53 L558.8,89.49 L560.3,89.46 L561.8,89.44 L563.3,89.42 L564.8,89.40 L566.3,89.38 L567.8,89.37 L569.3,89.36 L570.8,89.35 L572.3,89.34 L573.8,89.33 L575.3,89.32 L576.8,89.32 L578.3,89.32 L579.8,89.31 L581.3,89.31 L582.8,89.31 L584.3,89.31 L585.8,89.30 L587.3,89.30 L588.8,89.30 L590.3,89.30 L591.8,89.30 L593.3,89.30 L594.8,89.30 L596.3,89.30 L597.8,89.30 L599.3,89.30 L600.8,89.30 L602.3,89.30 L603.8,89.30 L605.3,89.30 L606.8,89.30 L608.3,89.30 L609.8,89.30 L611.3,89.30 L612.8,89.30 L614.3,89.30 L615.8,89.30 L617.3,89.30 L618.8,89.30 L620.3,89.30 L621.8,89.30 L623.3,89.30 L624.8,89.30 L626.3,89.30 L627.8,89.30 L629.3,89.30 L630.8,89.30 L632.3,89.30 L633.8,89.30 L635.3,89.30 L636.8,89.30 L638.3,89.30 L639.8,89.30 L641.3,89.30 L642.8,89.30 L644.3,89.30 L645.8,89.30 L647.3,89.30 L648.8,89.30 L650.3,89.30 L651.8,89.30 L653.3,89.30 L654.8,89.30 L656.3,89.30 L657.8,89.30 L659.3,89.30 L660.8,89.30 L662.3,89.30 L663.8,89.30 L665.3,89.30 L666.8,89.30 L668.3,89.30 L669.8,89.30 L671.3,89.30 L672.8,89.30 L674.3,89.30 L675.8,89.30 L677.3,89.30 L678.8,89.30 L680.3,89.30 L681.8,89.30 L683.3,89.30 L684.8,89.30 L686.3,89.30 L687.8,89.30 L689.3,89.30 L690.8,89.30 L692.3,89.30 L693.8,89.30 L695.3,89.30 L696.8,89.30 L698.3,89.30 L699.8,89.30 L701.3,89.30 L702.8,89.30 L704.3,89.30 L705.8,89.30 L707.3,89.30 L708.8,89.30 L710.3,89.30 L711.8,89.30 L713.3,89.30 L714.8,89.30 L716.3,89.30 L717.8,89.30 L719.3,89.30 L720.8,89.30 L722.3,89.30 L723.8,89.30 L725.3,89.30 L726.8,89.30 L728.3,89.30 L729.8,89.30 L731.3,89.30 L732.8,89.30 L734.3,89.30 L735.8,89.30 L737.3,89.30 L738.8,89.30 L740.3,89.30 L741.8,89.30 L743.3,89.30 L744.8,89.30 L746.3,89.30 L747.8,89.30 L749.3,89.30 L750.8,89.30 L752.3,89.30 L753.8,89.30 L755.3,89.30 L756.8,89.30 L758.3,89.30 L759.8,89.30 L761.3,89.30 L762.8,89.30 L764.3,89.30 L765.8,89.30 L767.3,89.30 L768.8,89.30 L770.3,89.30 L771.8,89.30 L773.3,89.30 L774.8,89.30 L776.3,89.30 L777.8,89.30 L779.3,89.30 L780.8,89.30 L782.3,89.30 L783.8,89.30 L785.3,89.30 L786.8,89.30 L788.3,89.30 L789.8,89.30"/><path id="c4" d="M147.8,441.55 L149.3,441.55 L150.8,441.55 L152.3,441.54 L153.8,441.54 L155.3,441.54 L156.8,441.54 L158.3,441.53 L159.8,441.53 L161.3,441.53 L162.8,441.53 L164.3,441.52 L165.8,441.52 L167.3,441.52 L168.8,441.52 L170.3,441.51 L171.8,441.51 L173.3,441.51 L174.8,441.51 L176.3,441.50 L177.8,441.50 L179.3,441.50 L180.8,441.49 L182.3,441.49 L183.8,441.49 L185.3,441.48 L186.8,441.48 L188.3,441.48 L189.8,441.47 L191.3,441.47 L192.8,441.46 L194.3,441.46 L195.8,441.46 L197.3,441.45 L198.8,441.45 L200.3,441.44 L201.8,441.44 L203.3,441.44 L204.8,441.43 L206.3,441.43 L207.8,441.42 L209.3,441.42 L210.8,441.41 L212.3,441.41 L213.8,441.40 L215.3,441.40 L216.8,441.39 L218.3,441.39 L219.8,441.38 L221.3,441.38 L222.8,441.37 L224.3,441.36 L225.8,441.36 L227.3,441.35 L228.8,441.35 L230.3,441.34 L231.8,441.33 L233.3,441.33 L234.8,441.32 L236.3,441.31 L237.8,441.30 L239.3,441.30 L240.8,441.29 L242.3,441.28 L243.8,441.27 L245.3,441.27 L246.8,441.26 L248.3,441.25 L249.8,441.24 L251.3,441.23 L252.8,441.22 L254.3,441.22 L255.8,441.21 L257.3,441.20 L258.8,441.19 L260.3,441.18 L261.8,441.17 L263.3,441.16 L264.8,441.15 L266.3,441.14 L267.8,441.13 L269.3,441.12 L270.8,441.10 L272.3,441.09 L273.8,441.08 L275.3,441.07 L276.8,441.06 L278.3,441.04 L279.8,441.03 L281.3,441.02 L282.8,441.01 L284.3,440.99 L285.8,440.98 L287.3,440.96 L288.8,440.95 L290.3,440.93 L291.8,440.92 L293.3,440.90 L294.8,440.89 L296.3,440.87 L297.8,440.86 L299.3,440.84 L300.8,440.82 L302.3,440.81 L303.8,440.79 L305.3,440.77 L306.8,440.75 L308.3,440.73 L309.8,440.71 L311.3,440.69 L312.8,440.67 L314.3,440.65 L315.8,440.63 L317.3,440.61 L318.8,440.59 L320.3,440.57 L321.8,440.54 L323.3,440.52 L324.8,440.50 L326.3,440.47 L327.8,440.45 L329.3,440.42 L330.8,440.40 L332.3,440.37 L333.8,440.34 L335.3,440.32 L336.8,440.29 L338.3,440.26 L339.8,440.23 L341.3,440.20 L342.8,440.17 L344.3,440.14 L345.8,440.11 L347.3,440.07 L348.8,440.04 L350.3,440.01 L351.8,439.97 L353.3,439.94 L354.8,439.90 L356.3,439.86 L357.8,439.83 L359.3,439.79 L360.8,439.75 L362.3,439.71 L363.8,439.67 L365.3,439.63 L366.8,439.59 L368.3,439.54 L369.8,439.50 L371.3,439.45 L372.8,439.41 L374.3,439.36 L375.8,439.31 L377.3,439.26 L378.8,439.21 L380.3,439.16 L381.8,439.11 L383.3,439.06 L384.8,439.00 L386.3,438.95 L387.8,438.89 L389.3,438.83 L390.8,438.78 L392.3,438.72 L393.8,438.65 L395.3,438.59 L396.8,438.53 L398.3,438.46 L399.8,438.40 L401.3,438.33 L402.8,438.26 L404.3,438.19 L405.8,438.12 L407.3,438.05 L408.8,437.97 L410.3,437.89 L411.8,437.82 L413.3,437.74 L414.8,437.66 L416.3,437.57 L417.8,437.49 L419.3,437.40 L420.8,437.32 L422.3,437.23 L423.8,437.14 L425.3,437.04 L426.8,436.95 L428.3,436.85 L429.8,436.75 L431.3,436.65 L432.8,436.55 L434.3,436.45 L435.8,436.34 L437.3,436.23 L438.8,436.12 L440.3,436.01 L441.8,435.89 L443.3,435.77 L444.8,435.65 L446.3,435.53 L447.8,435.41 L449.3,435.28 L450.8,435.15 L452.3,435.02 L453.8,434.89 L455.3,434.75 L456.8,434.61 L458.3,434.47 L459.8,434.33 L461.3,434.18 L462.8,434.03 L464.3,433.87 L465.8,433.72 L467.3,433.56 L468.8,433.40 L470.3,433.23 L471.8,433.07 L473.3,432.90 L474.8,432.72 L476.3,432.55 L477.8,432.37 L479.3,432.18 L480.8,432.00 L482.3,431.81 L483.8,431.61 L485.3,431.42 L486.8,431.22 L488.3,431.01 L489.8,430.80 L491.3,430.59 L492.8,430.38 L494.3,430.16 L495.8,429.94 L497.3,429.71 L498.8,429.48 L500.3,429.25 L501.8,429.01 L503.3,428.77 L504.8,428.52 L506.3,428.28 L507.8,428.02 L509.3,427.76 L510.8,427.50 L512.3,427.24 L513.8,426.97 L515.3,426.69 L516.8,426.41 L518.3,426.13 L519.8,425.84 L521.3,425.55 L522.8,425.25 L524.3,424.95 L525.8,424.65 L527.3,424.34 L528.8,424.02 L530.3,423.70 L531.8,423.38 L533.3,423.05 L534.8,422.72 L536.3,422.38 L537.8,422.04 L539.3,421.69 L540.8,421.34 L542.3,420.99 L543.8,420.63 L545.3,420.26 L546.8,419.89 L548.3,419.52 L549.8,419.14 L551.3,418.76 L552.8,418.37 L554.3,417.98 L555.8,417.58 L557.3,417.18 L558.8,416.78 L560.3,416.37 L561.8,415.95 L563.3,415.53 L564.8,415.11 L566.3,414.69 L567.8,414.26 L569.3,413.82 L570.8,413.38 L572.3,412.94 L573.8,412.50 L575.3,412.05 L576.8,411.60 L578.3,411.14 L579.8,410.68 L581.3,410.22 L582.8,409.76 L584.3,409.29 L585.8,408.82 L587.3,408.35 L588.8,407.88 L590.3,407.40 L591.8,406.92 L593.3,406.45 L594.8,405.96 L596.3,405.48 L597.8,405.00 L599.3,404.52 L600.8,404.03 L602.3,403.55 L603.8,403.06 L605.3,402.58 L606.8,402.09 L608.3,401.61 L609.8,401.13 L611.3,400.65 L612.8,400.17 L614.3,399.69 L615.8,399.22 L617.3,398.74 L618.8,398.27 L620.3,397.81 L621.8,397.34 L623.3,396.88 L624.8,396.43 L626.3,395.98 L627.8,395.53 L629.3,395.09 L630.8,394.65 L632.3,394.22 L633.8,393.80 L635.3,393.38 L636.8,392.97 L638.3,392.56 L639.8,392.17 L641.3,391.78 L642.8,391.39 L644.3,391.02 L645.8,390.65 L647.3,390.29 L648.8,389.95 L650.3,389.60 L651.8,389.27 L653.3,388.95 L654.8,388.64 L656.3,388.33 L657.8,388.04 L659.3,387.76 L660.8,387.48 L662.3,387.22 L663.8,386.96 L665.3,386.72 L666.8,386.48 L668.3,386.25 L669.8,386.04 L671.3,385.83 L672.8,385.63 L674.3,385.45 L675.8,385.27 L677.3,385.10 L678.8,384.94 L680.3,384.78 L681.8,384.64 L683.3,384.51 L684.8,384.38 L686.3,384.26 L687.8,384.15 L689.3,384.04 L690.8,383.95 L692.3,383.86 L693.8,383.77 L695.3,383.69 L696.8,383.62 L698.3,383.55 L699.8,383.49 L701.3,383.44 L702.8,383.39 L704.3,383.34 L705.8,383.30 L707.3,383.26 L708.8,383.22 L710.3,383.19 L711.8,383.16 L713.3,383.14 L714.8,383.11 L716.3,383.09 L717.8,383.07 L719.3,383.06 L720.8,383.04 L722.3,383.03 L723.8,383.02 L725.3,383.01 L726.8,383.00 L728.3,382.99 L729.8,382.99 L731.3,382.98 L732.8,382.98 L734.3,382.97"/><path id="c5" d="M147.8,441.55 L149.3,441.36 L150.8,441.16 L152.3,440.96 L153.8,440.76 L155.3,440.55 L156.8,440.34 L158.3,440.12 L159.8,439.91 L161.3,439.68 L162.8,439.46 L164.3,439.23 L165.8,438.99 L167.3,438.75 L168.8,438.51 L170.3,438.26 L171.8,438.01 L173.3,437.76 L174.8,437.50 L176.3,437.23 L177.8,436.97 L179.3,436.69 L180.8,436.42 L182.3,436.13 L183.8,435.85 L185.3,435.56 L186.8,435.26 L188.3,434.96 L189.8,434.66 L191.3,434.35 L192.8,434.03 L194.3,433.71 L195.8,433.39 L197.3,433.06 L198.8,432.72 L200.3,432.38 L201.8,432.04 L203.3,431.69 L204.8,431.33 L206.3,430.97 L207.8,430.61 L209.3,430.24 L210.8,429.86 L212.3,429.48 L213.8,429.10 L215.3,428.70 L216.8,428.31 L218.3,427.91 L219.8,427.50 L221.3,427.09 L222.8,426.67 L224.3,426.25 L225.8,425.82 L227.3,425.39 L228.8,424.95 L230.3,424.50 L231.8,424.06 L233.3,423.60 L234.8,423.14 L236.3,422.68 L237.8,422.21 L239.3,421.74 L240.8,421.26 L242.3,420.78 L243.8,420.29 L245.3,419.80 L246.8,419.30 L248.3,418.80 L249.8,418.29 L251.3,417.78 L252.8,417.27 L254.3,416.75 L255.8,416.23 L257.3,415.70 L258.8,415.17 L260.3,414.64 L261.8,414.10 L263.3,413.57 L264.8,413.02 L266.3,412.48 L267.8,411.93 L269.3,411.38 L270.8,410.83 L272.3,410.28 L273.8,409.72 L275.3,409.16 L276.8,408.61 L278.3,408.05 L279.8,407.49 L281.3,406.93 L282.8,406.37 L284.3,405.81 L285.8,405.25 L287.3,404.69 L288.8,404.13 L290.3,403.57 L291.8,403.02 L293.3,402.46 L294.8,401.91 L296.3,401.37 L297.8,400.82 L299.3,400.28 L300.8,399.74 L302.3,399.21 L303.8,398.68 L305.3,398.16 L306.8,397.64 L308.3,397.13 L309.8,396.62 L311.3,396.12 L312.8,395.63 L314.3,395.14 L315.8,394.66 L317.3,394.19 L318.8,393.73 L320.3,393.27 L321.8,392.83 L323.3,392.39 L324.8,391.96 L326.3,391.54 L327.8,391.14 L329.3,390.74 L330.8,390.35 L332.3,389.97 L333.8,389.61 L335.3,389.25 L336.8,388.91 L338.3,388.58 L339.8,388.26 L341.3,387.95 L342.8,387.65 L344.3,387.36 L345.8,387.08 L347.3,386.82 L348.8,386.57 L350.3,386.32 L351.8,386.09 L353.3,385.87 L354.8,385.66 L356.3,385.46 L357.8,385.28 L359.3,385.10 L360.8,384.93 L362.3,384.77 L363.8,384.62 L365.3,384.48 L366.8,384.35 L368.3,384.23 L369.8,384.12 L371.3,384.01 L372.8,383.91 L374.3,383.82 L375.8,383.74 L377.3,383.66 L378.8,383.59 L380.3,383.52 L381.8,383.46 L383.3,383.40 L384.8,383.35 L386.3,383.31 L387.8,383.27 L389.3,383.23 L390.8,383.20 L392.3,383.17 L393.8,383.14 L395.3,383.12 L396.8,383.09 L398.3,383.07 L399.8,383.06 L401.3,383.04 L402.8,383.03 L404.3,383.02 L405.8,383.01 L407.3,383.00 L408.8,382.99 L410.3,382.99 L411.8,382.98 L413.3,382.97 L414.8,382.97 L416.3,382.97 L417.8,382.96 L419.3,382.96 L420.8,382.96 L422.3,382.96 L423.8,382.96 L425.3,382.96 L426.8,382.95 L428.3,382.95 L429.8,382.95 L431.3,382.95 L432.8,382.95 L434.3,382.95 L435.8,382.95 L437.3,382.95 L438.8,382.95 L440.3,382.95 L441.8,382.95 L443.3,382.95 L444.8,382.95 L446.3,382.95 L447.8,382.95 L449.3,382.95 L450.8,382.95 L452.3,382.95 L453.8,382.95 L455.3,382.95 L456.8,382.95 L458.3,382.95 L459.8,382.95 L461.3,382.95 L462.8,382.95 L464.3,382.95 L465.8,382.95 L467.3,382.95 L468.8,382.95 L470.3,382.95 L471.8,382.95 L473.3,382.95 L474.8,382.95 L476.3,382.95 L477.8,382.95 L479.3,382.95 L480.8,382.95 L482.3,382.95 L483.8,382.95 L485.3,382.95 L486.8,382.95 L488.3,382.95 L489.8,382.95 L491.3,382.95 L492.8,382.95 L494.3,382.95 L495.8,382.95 L497.3,382.95 L498.8,382.95 L500.3,382.95 L501.8,382.95 L503.3,382.95 L504.8,382.95 L506.3,382.95 L507.8,382.95 L509.3,382.95 L510.8,382.95 L512.3,382.95 L513.8,382.95 L515.3,382.95 L516.8,382.95 L518.3,382.95 L519.8,382.95 L521.3,382.95 L522.8,382.95 L524.3,382.95 L525.8,382.95 L527.3,382.95 L528.8,382.95 L530.3,382.95 L531.8,382.95 L533.3,382.95 L534.8,382.95 L536.3,382.95 L537.8,382.95 L539.3,382.95 L540.8,382.95 L542.3,382.95 L543.8,382.95 L545.3,382.95 L546.8,382.95 L548.3,382.95 L549.8,382.95 L551.3,382.95 L552.8,382.95 L554.3,382.95 L555.8,382.95 L557.3,382.95 L558.8,382.95 L560.3,382.95 L561.8,382.95 L563.3,382.95 L564.8,382.95 L566.3,382.95 L567.8,382.95 L569.3,382.95 L570.8,382.95 L572.3,382.95 L573.8,382.95 L575.3,382.95 L576.8,382.95 L578.3,382.95 L579.8,382.95 L581.3,382.95 L582.8,382.95 L584.3,382.95 L585.8,382.95 L587.3,382.95 L588.8,382.95"/><path id="c6" d="M147.8,441.55 L149.3,441.53 L150.8,441.50 L152.3,441.48 L153.8,441.45 L155.3,441.43 L156.8,441.40 L158.3,441.38 L159.8,441.35 L161.3,441.32 L162.8,441.30 L164.3,441.27 L165.8,441.24 L167.3,441.21 L168.8,441.18 L170.3,441.15 L171.8,441.12 L173.3,441.09 L174.8,441.06 L176.3,441.02 L177.8,440.99 L179.3,440.96 L180.8,440.92 L182.3,440.89 L183.8,440.85 L185.3,440.81 L186.8,440.78 L188.3,440.74 L189.8,440.70 L191.3,440.66 L192.8,440.62 L194.3,440.58 L195.8,440.54 L197.3,440.50 L198.8,440.45 L200.3,440.41 L201.8,440.36 L203.3,440.32 L204.8,440.27 L206.3,440.23 L207.8,440.18 L209.3,440.13 L210.8,440.08 L212.3,440.03 L213.8,439.98 L215.3,439.92 L216.8,439.87 L218.3,439.81 L219.8,439.76 L221.3,439.70 L222.8,439.64 L224.3,439.58 L225.8,439.52 L227.3,439.46 L228.8,439.40 L230.3,439.33 L231.8,439.27 L233.3,439.20 L234.8,439.14 L236.3,439.07 L237.8,439.00 L239.3,438.93 L240.8,438.85 L242.3,438.78 L243.8,438.70 L245.3,438.63 L246.8,438.55 L248.3,438.47 L249.8,438.39 L251.3,438.30 L252.8,438.22 L254.3,438.13 L255.8,438.05 L257.3,437.96 L258.8,437.87 L260.3,437.77 L261.8,437.68 L263.3,437.58 L264.8,437.48 L266.3,437.38 L267.8,437.28 L269.3,437.18 L270.8,437.07 L272.3,436.97 L273.8,436.86 L275.3,436.75 L276.8,436.63 L278.3,436.52 L279.8,436.40 L281.3,436.28 L282.8,436.16 L284.3,436.03 L285.8,435.91 L287.3,435.78 L288.8,435.65 L290.3,435.51 L291.8,435.38 L293.3,435.24 L294.8,435.10 L296.3,434.95 L297.8,434.81 L299.3,434.66 L300.8,434.51 L302.3,434.35 L303.8,434.20 L305.3,434.04 L306.8,433.87 L308.3,433.71 L309.8,433.54 L311.3,433.37 L312.8,433.19 L314.3,433.02 L315.8,432.84 L317.3,432.65 L318.8,432.46 L320.3,432.27 L321.8,432.08 L323.3,431.88 L324.8,431.68 L326.3,431.48 L327.8,431.27 L329.3,431.06 L330.8,430.85 L332.3,430.63 L333.8,430.41 L335.3,430.18 L336.8,429.95 L338.3,429.72 L339.8,429.48 L341.3,429.24 L342.8,429.00 L344.3,428.75 L345.8,428.50 L347.3,428.24 L348.8,427.98 L350.3,427.71 L351.8,427.44 L353.3,427.17 L354.8,426.89 L356.3,426.61 L357.8,426.33 L359.3,426.04 L360.8,425.74 L362.3,425.44 L363.8,425.14 L365.3,424.83 L366.8,424.52 L368.3,424.20 L369.8,423.88 L371.3,423.55 L372.8,423.22 L374.3,422.88 L375.8,422.54 L377.3,422.20 L378.8,421.85 L380.3,421.49 L381.8,421.13 L383.3,420.77 L384.8,420.40 L386.3,420.03 L387.8,419.65 L389.3,419.27 L390.8,418.88 L392.3,418.49 L393.8,418.09 L395.3,417.69 L396.8,417.29 L398.3,416.88 L399.8,416.46 L401.3,416.04 L402.8,415.62 L404.3,415.19 L405.8,414.76 L407.3,414.33 L408.8,413.89 L410.3,413.44 L411.8,413.00 L413.3,412.54 L414.8,412.09 L416.3,411.63 L417.8,411.17 L419.3,410.70 L420.8,410.24 L422.3,409.76 L423.8,409.29 L425.3,408.81 L426.8,408.33 L428.3,407.85 L429.8,407.37 L431.3,406.88 L432.8,406.39 L434.3,405.90 L435.8,405.41 L437.3,404.92 L438.8,404.43 L440.3,403.93 L441.8,403.44 L443.3,402.94 L444.8,402.45 L446.3,401.95 L447.8,401.46 L449.3,400.97 L450.8,400.48 L452.3,399.99 L453.8,399.50 L455.3,399.02 L456.8,398.53 L458.3,398.05 L459.8,397.58 L461.3,397.10 L462.8,396.63 L464.3,396.17 L465.8,395.71 L467.3,395.25 L468.8,394.80 L470.3,394.36 L471.8,393.92 L473.3,393.49 L474.8,393.06 L476.3,392.64 L477.8,392.23 L479.3,391.83 L480.8,391.43 L482.3,391.05 L483.8,390.67 L485.3,390.30 L486.8,389.94 L488.3,389.59 L489.8,389.24 L491.3,388.91 L492.8,388.59 L494.3,388.27 L495.8,387.97 L497.3,387.68 L498.8,387.40 L500.3,387.13 L501.8,386.86 L503.3,386.61 L504.8,386.37 L506.3,386.14 L507.8,385.92 L509.3,385.71 L510.8,385.51 L512.3,385.32 L513.8,385.14 L515.3,384.97 L516.8,384.81 L518.3,384.66 L519.8,384.52 L521.3,384.38 L522.8,384.26 L524.3,384.14 L525.8,384.03 L527.3,383.93 L528.8,383.84 L530.3,383.75 L531.8,383.67 L533.3,383.60 L534.8,383.53 L536.3,383.47 L537.8,383.41 L539.3,383.36 L540.8,383.31 L542.3,383.27 L543.8,383.23 L545.3,383.20 L546.8,383.17 L548.3,383.14 L549.8,383.11 L551.3,383.09 L552.8,383.07 L554.3,383.05 L555.8,383.04 L557.3,383.03 L558.8,383.01 L560.3,383.00 L561.8,383.00 L563.3,382.99 L564.8,382.98 L566.3,382.98 L567.8,382.97 L569.3,382.97 L570.8,382.97 L572.3,382.96 L573.8,382.96 L575.3,382.96 L576.8,382.96 L578.3,382.96 L579.8,382.95 L581.3,382.95 L582.8,382.95 L584.3,382.95 L585.8,382.95 L587.3,382.95 L588.8,382.95 L590.3,382.95 L591.8,382.95 L593.3,382.95 L594.8,382.95 L596.3,382.95 L597.8,382.95 L599.3,382.95 L600.8,382.95 L602.3,382.95 L603.8,382.95 L605.3,382.95 L606.8,382.95 L608.3,382.95 L609.8,382.95 L611.3,382.95 L612.8,382.95 L614.3,382.95 L615.8,382.95 L617.3,382.95 L618.8,382.95 L620.3,382.95 L621.8,382.95 L623.3,382.95 L624.8,382.95 L626.3,382.95 L627.8,382.95 L629.3,382.95 L630.8,382.95 L632.3,382.95 L633.8,382.95 L635.3,382.95 L636.8,382.95 L638.3,382.95 L639.8,382.95 L641.3,382.95 L642.8,382.95 L644.3,382.95 L645.8,382.95 L647.3,382.95 L648.8,382.95 L650.3,382.95 L651.8,382.95 L653.3,382.95 L654.8,382.95 L656.3,382.95 L657.8,382.95 L659.3,382.95 L660.8,382.95 L662.3,382.95 L663.8,382.95 L665.3,382.95 L666.8,382.95 L668.3,382.95 L669.8,382.95 L671.3,382.95 L672.8,382.95 L674.3,382.95 L675.8,382.95 L677.3,382.95 L678.8,382.95 L680.3,382.95 L681.8,382.95 L683.3,382.95 L684.8,382.95 L686.3,382.95 L687.8,382.95 L689.3,382.95 L690.8,382.95 L692.3,382.95 L693.8,382.95 L695.3,382.95 L696.8,382.95 L698.3,382.95 L699.8,382.95 L701.3,382.95 L702.8,382.95 L704.3,382.95 L705.8,382.95 L707.3,382.95 L708.8,382.95 L710.3,382.95 L711.8,382.95 L713.3,382.95 L714.8,382.95 L716.3,382.95 L717.8,382.95 L719.3,382.95 L720.8,382.95 L722.3,382.95 L723.8,382.95 L725.3,382.95 L726.8,382.95 L728.3,382.95 L729.8,382.95 L731.3,382.95 L732.8,382.95 L734.3,382.95 L735.8,382.95 L737.3,382.95 L738.8,382.95 L740.3,382.95 L741.8,382.95 L743.3,382.95 L744.8,382.95 L746.3,382.95 L747.8,382.95 L749.3,382.95 L750.8,382.95 L752.3,382.95 L753.8,382.95 L755.3,382.95 L756.8,382.95 L758.3,382.95 L759.8,382.95 L761.3,382.95 L762.8,382.95 L764.3,382.95 L765.8,382.95 L767.3,382.95 L768.8,382.95 L770.3,382.95 L771.8,382.95 L773.3,382.95 L774.8,382.95 L776.3,382.95 L777.8,382.95 L779.3,382.95 L780.8,382.95 L782.3,382.95 L783.8,382.95 L785.3,382.95 L786.8,382.95 L788.3,382.95 L789.8,382.95"/></defs>
</svg>
</body></html>
